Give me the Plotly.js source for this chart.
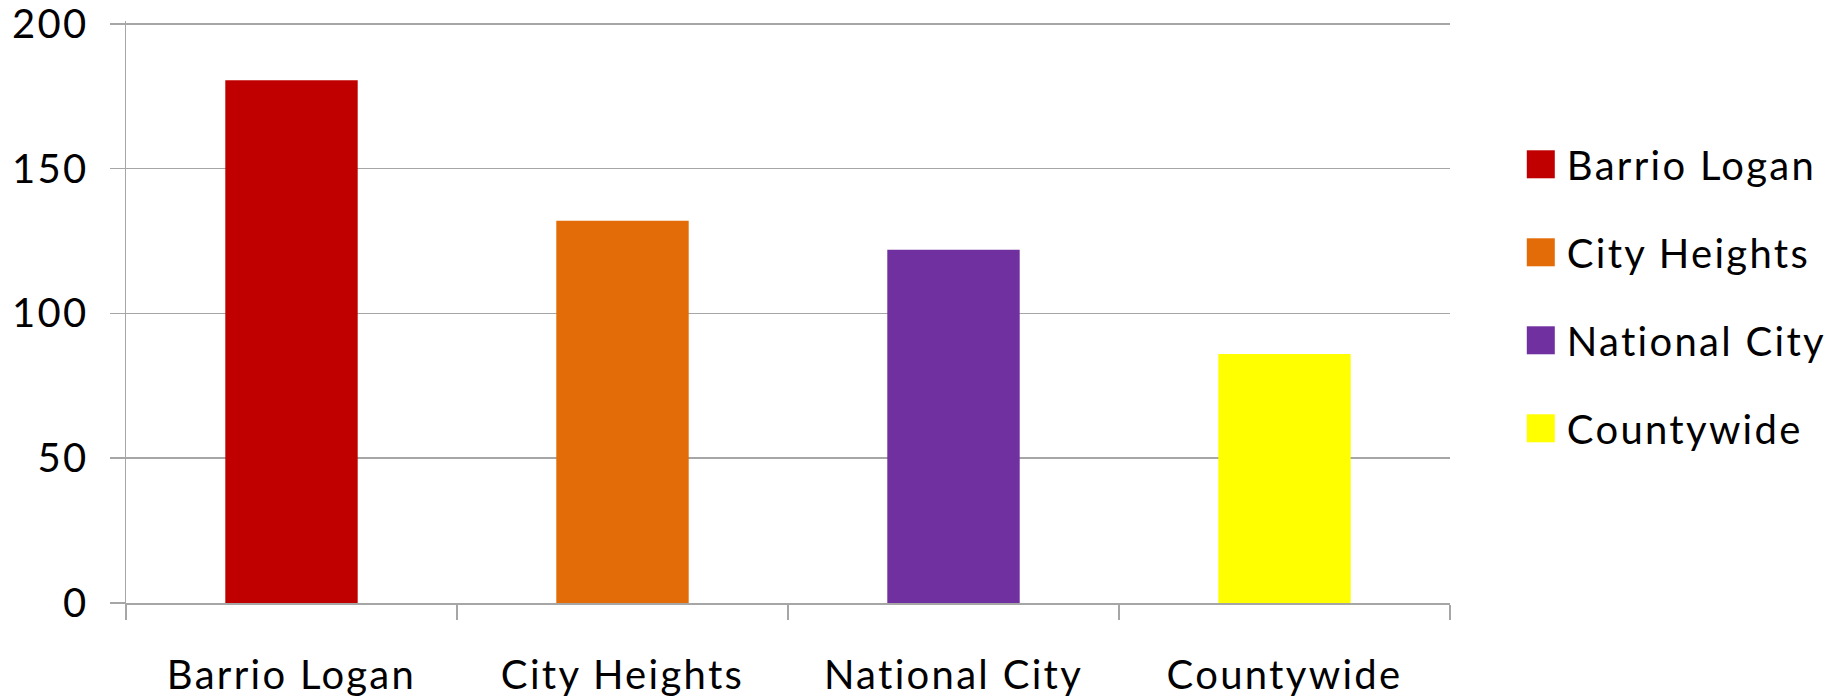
<!DOCTYPE html>
<html>
<head>
<meta charset="utf-8">
<script src="https://cdn.plot.ly/plotly-3.0.1.min.js"></script>
<style>
html,body{margin:0;padding:0;background:#fff;}
#chart{width:1845px;height:698px;}
#chart text{letter-spacing:2.3px;}
#chart .legend .scrollbox{clip-path:none !important;}
</style>
</head>
<body>
<div id="chart"></div>
<script>
var categories = ["Barrio Logan", "City Heights", "National City", "Countywide"];
var values = [180.5, 132, 122, 86];
var colors = ["#C00000", "#E36C09", "#7030A0", "#FFFF00"];
var yTicks = [0, 50, 100, 150, 200];

var traces = categories.map(function (c, i) {
  return {
    type: "bar",
    x: [c],
    y: [values[i]],
    name: c,
    legendgroup: "g" + i,
    marker: { color: colors[i], line: { width: 0 } },
    hoverinfo: "x+y"
  };
});

var gridCol = "#a6a6a6";
var fontFam = "Lato, 'Open Sans', sans-serif";

var layout = {
  width: 1845,
  height: 698,
  margin: { l: 126, r: 395, t: 21, b: 95 },
  paper_bgcolor: "#ffffff",
  plot_bgcolor: "#ffffff",
  barmode: "relative",
  bargap: 0.6,
  showlegend: true,
  font: { family: fontFam, color: "#000000", size: 40 },
  xaxis: {
    type: "category",
    categoryorder: "array",
    categoryarray: categories,
    showgrid: false,
    showline: true,
    linecolor: gridCol,
    linewidth: 1.5,
    ticks: "outside",
    tickson: "boundaries",
    ticklen: 15,
    tickwidth: 1.2,
    tickcolor: gridCol,
    ticklabelstandoff: 36,
    tickfont: { family: fontFam, size: 40, color: "#000000" },
    zeroline: false,
    fixedrange: true
  },
  yaxis: {
    range: [0, 201],
    tickvals: yTicks,
    ticktext: yTicks.map(String),
    ticklabeloverflow: "allow",
    showgrid: true,
    gridcolor: gridCol,
    gridwidth: 1.5,
    showline: true,
    linecolor: gridCol,
    linewidth: 1.5,
    ticks: "outside",
    ticklen: 15,
    tickwidth: 1.5,
    tickcolor: gridCol,
    ticklabelstandoff: 13,
    tickfont: { family: fontFam, size: 40, color: "#000000" },
    zeroline: false,
    fixedrange: true
  },
  legend: {
    x: 1.058,
    xanchor: "left",
    y: 0.527,
    yanchor: "middle",
    traceorder: "grouped",
    tracegroupgap: 33,
    font: { family: fontFam, size: 40, color: "#000000" },
    bgcolor: "rgba(0,0,0,0)",
    borderwidth: 0,
    itemwidth: 30
  }
};

Plotly.newPlot("chart", traces, layout, { staticPlot: true, displayModeBar: false }).then(function (gd) {
  // enlarge legend swatches to match the reference's square markers
  var pts = gd.querySelectorAll(".legendpoints path");
  pts.forEach(function (p) {
    p.setAttribute("d", "M8,14H-20V-14H8Z");
  });
});
</script>
</body>
</html>
